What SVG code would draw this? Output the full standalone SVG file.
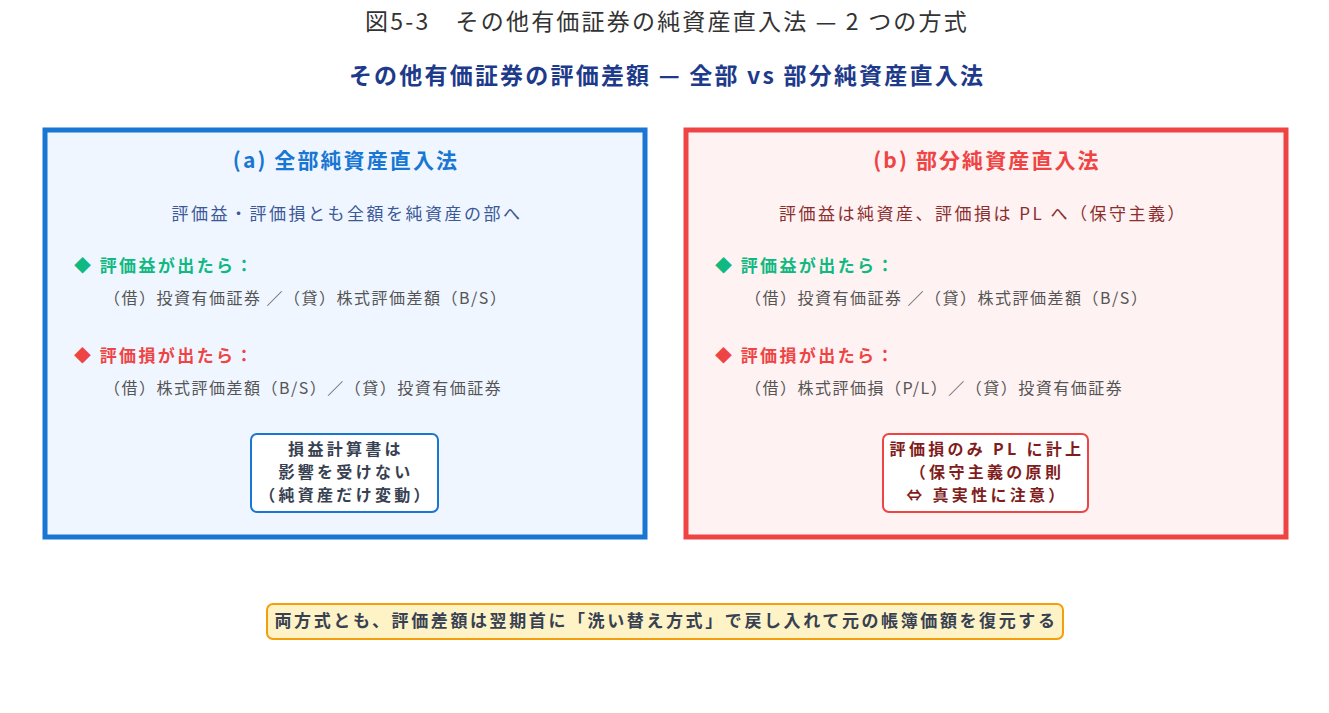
<svg xmlns="http://www.w3.org/2000/svg" width="1329" height="713" viewBox="0 0 1329 713">
<style>
text{font-family:"Noto Sans CJK JP","Noto Sans",sans-serif}
.title{font-size:23px;fill:#333;text-anchor:middle;letter-spacing:2.2px}
.sub{font-size:23px;font-weight:bold;fill:#1e3a8a;text-anchor:middle;letter-spacing:2.2px}
.head{font-size:21px;font-weight:bold;text-anchor:middle;letter-spacing:2.1px}
.desc{font-size:17px;text-anchor:middle;letter-spacing:2.5px}
.gain{font-size:17px;font-weight:bold;fill:#10b981;letter-spacing:2.4px}
.loss{font-size:17px;font-weight:bold;fill:#ef4444;letter-spacing:2.4px}
.entry{font-size:16px;fill:#555;letter-spacing:1.5px}
.note{font-size:16px;font-weight:bold;text-anchor:middle;letter-spacing:3.3px}
.foot{font-size:17px;font-weight:bold;text-anchor:middle;letter-spacing:2.6px;fill:#374151}
</style>
<rect width="1329" height="713" fill="#fff"/>
<text class="title" x="667" y="30">図5-3　その他有価証券の純資産直入法 — 2 つの方式</text>
<text class="sub" x="667" y="84">その他有価証券の評価差額 — 全部 vs 部分純資産直入法</text>
<g id="boxA">
<rect x="45" y="130" width="600" height="407" fill="#eff6ff" stroke="#1976d2" stroke-width="5"/>
<text class="head" x="346" y="168" fill="#1976d2">(a) 全部純資産直入法</text>
<text class="desc" x="347" y="220" fill="#3b5998">評価益・評価損とも全額を純資産の部へ</text>
<text class="gain" x="74" y="272">◆ 評価益が出たら：</text>
<text class="entry" x="104" y="304">（借）投資有価証券 ／（貸）株式評価差額（B/S）</text>
<text class="loss" x="74" y="362">◆ 評価損が出たら：</text>
<text class="entry" x="104" y="394">（借）株式評価差額（B/S）／（貸）投資有価証券</text>
</g>
<g id="noteA">
<rect x="251" y="434" width="187" height="78" rx="6" fill="#fff" stroke="#1976d2" stroke-width="2"/>
<text class="note" x="346" y="455" fill="#374151">損益計算書は</text>
<text class="note" x="346" y="478" fill="#374151">影響を受けない</text>
<text class="note" x="346" y="501" fill="#374151">（純資産だけ変動）</text>
</g>
<g id="boxB">
<rect x="686" y="130" width="600" height="407" fill="#fef2f2" stroke="#ef4444" stroke-width="5"/>
<text class="head" x="987" y="168" fill="#ef4444">(b) 部分純資産直入法</text>
<text class="desc" x="983" y="220" fill="#8b2e2e">評価益は純資産、評価損は PL へ（保守主義）</text>
<text class="gain" x="715" y="272">◆ 評価益が出たら：</text>
<text class="entry" x="745" y="304">（借）投資有価証券 ／（貸）株式評価差額（B/S）</text>
<text class="loss" x="715" y="362">◆ 評価損が出たら：</text>
<text class="entry" x="745" y="394">（借）株式評価損（P/L）／（貸）投資有価証券</text>
</g>
<g id="noteB">
<rect x="883" y="434" width="205" height="78" rx="6" fill="#fff" stroke="#ef4444" stroke-width="2"/>
<text class="note" x="987" y="455" fill="#7f1d1d">評価損のみ PL に計上</text>
<text class="note" x="987" y="478" fill="#7f1d1d">（保守主義の原則</text>
<text class="note" x="987" y="501" fill="#7f1d1d">⇔ 真実性に注意）</text>
</g>
<g id="footer">
<rect x="267" y="604" width="796" height="35" rx="6" fill="#fef3c7" stroke="#f59e0b" stroke-width="2"/>
<text class="foot" x="666" y="627">両方式とも、評価差額は翌期首に「洗い替え方式」で戻し入れて元の帳簿価額を復元する</text>
</g>
<g id="connectors"></g>
</svg>
